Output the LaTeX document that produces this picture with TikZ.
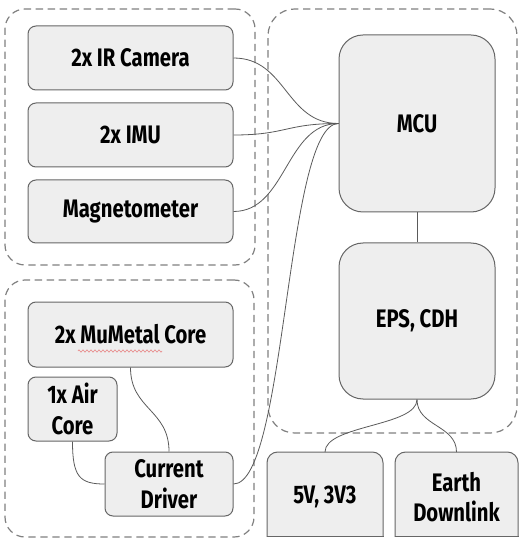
\documentclass[tikz,border=0pt]{standalone}
\usepackage{fontspec}
\setmainfont{Fira Sans}[FakeStretch=0.8]
\usetikzlibrary{fit,decorations.pathmorphing}
\definecolor{boxfill}{HTML}{EEEEEE}
\definecolor{boxline}{HTML}{666666}
\definecolor{grpline}{HTML}{808080}
\definecolor{wireline}{HTML}{5A5A5A}
\definecolor{squig}{HTML}{E89090}
\tikzset{
  grp/.style={draw=grpline, line width=0.9pt, dash pattern=on 5.5pt off 3.5pt, rounded corners=15pt, inner sep=0pt},
  blk/.style={draw=boxline, fill=boxfill, line width=0.75pt, rounded corners=6pt, inner sep=0pt, align=center,
    font=\fontsize{19}{23}\selectfont\bfseries},
  bigblk/.style={blk, rounded corners=18pt},
  wire/.style={draw=wireline, line width=0.6pt},
}
\begin{document}
\begin{tikzpicture}[x=0.75pt,y=-0.75pt]
\useasboundingbox (0,0) rectangle (526,548);
% groups
\node[grp, fit={(5,9) (255,265)}] (gsens) {};
\node[grp, fit={(5,280) (254,537)}] (gact) {};
\node[grp, rounded corners=20pt, fit={(268,9) (517,433)}] (gmain) {};
% blocks
\node[blk, minimum width=153.75pt, minimum height=48pt] (cam) at (130.5,58) {2x IR Camera};
\node[blk, minimum width=153.75pt, minimum height=48pt] (imu) at (130.5,135) {2x IMU};
\node[blk, minimum width=153.75pt, minimum height=47.25pt] (mag) at (130.5,211.5) {Magnetometer};
\node[blk, minimum width=153.75pt, minimum height=48.75pt] (mu) at (130.5,334.5) {2x MuMetal Core};
\node[blk, minimum width=66.75pt, minimum height=48pt] (air) at (72.5,409) {1x Air\\Core};
\node[blk, minimum width=96pt, minimum height=48pt] (drv) at (169,484) {Current\\Driver};
\node[bigblk, minimum width=117pt, minimum height=132.75pt] (mcu) at (417,123.5) {MCU};
\node[bigblk, minimum width=117pt, minimum height=117pt] (eps) at (417,321) {EPS, CDH};
% bottom boxes (cut at bottom)
\begin{scope}
\clip (0,0) rectangle (526,536);
\fill[boxfill, rounded corners=8pt] (267,452) rectangle (383,570);
\draw[boxline, line width=0.75pt, rounded corners=8pt] (267,452) rectangle (383,570);
\fill[boxfill, rounded corners=8pt] (395,452) rectangle (518,570);
\draw[boxline, line width=0.75pt, rounded corners=8pt] (395,452) rectangle (518,570);
\end{scope}
\draw[boxline, line width=0.75pt] (266.5,536) -- (383.5,536);
\draw[boxline, line width=0.75pt] (394.5,536) -- (518.5,536);
\node[blk, draw=none, fill=none, minimum width=87pt, minimum height=63pt] (pwr) at (325,497) {5V, 3V3};
\node[blk, draw=none, fill=none, minimum width=92.25pt, minimum height=63pt] (dl) at (456.5,497) {Earth\\Downlink};
\coordinate (pwrtop) at (325,452);
\coordinate (dltop) at (456.5,452);
% spell-check squiggle
\draw[squig, line width=0.5pt, decorate, decoration={zigzag, segment length=3pt, amplitude=0.9pt}] (78,351) -- (162,351);
% connectors
\draw[wire] (cam.east) .. controls +(53,0) and +(-53,0) .. (mcu.west);
\draw[wire] (imu.east) .. controls +(53,0) and +(-53,0) .. (mcu.west);
\draw[wire] (mag.east) .. controls +(53,0) and +(-53,0) .. (mcu.west);
\draw[wire] (drv.east) .. controls +(53,0) and +(-53,0) .. (mcu.west);
\draw[wire] (mcu.south) -- (eps.north);
\draw[wire] (eps.south) .. controls +(0,27) and +(0,-27) .. (pwrtop);
\draw[wire] (eps.south) .. controls +(0,27) and +(0,-27) .. (dltop);
\draw[wire] (mu.south) .. controls +(0,42) and +(0,-42) .. (drv.north);
\draw[wire] (air.south) .. controls +(0,35) and +(-25,0) .. (drv.west);
\end{tikzpicture}
\end{document}
